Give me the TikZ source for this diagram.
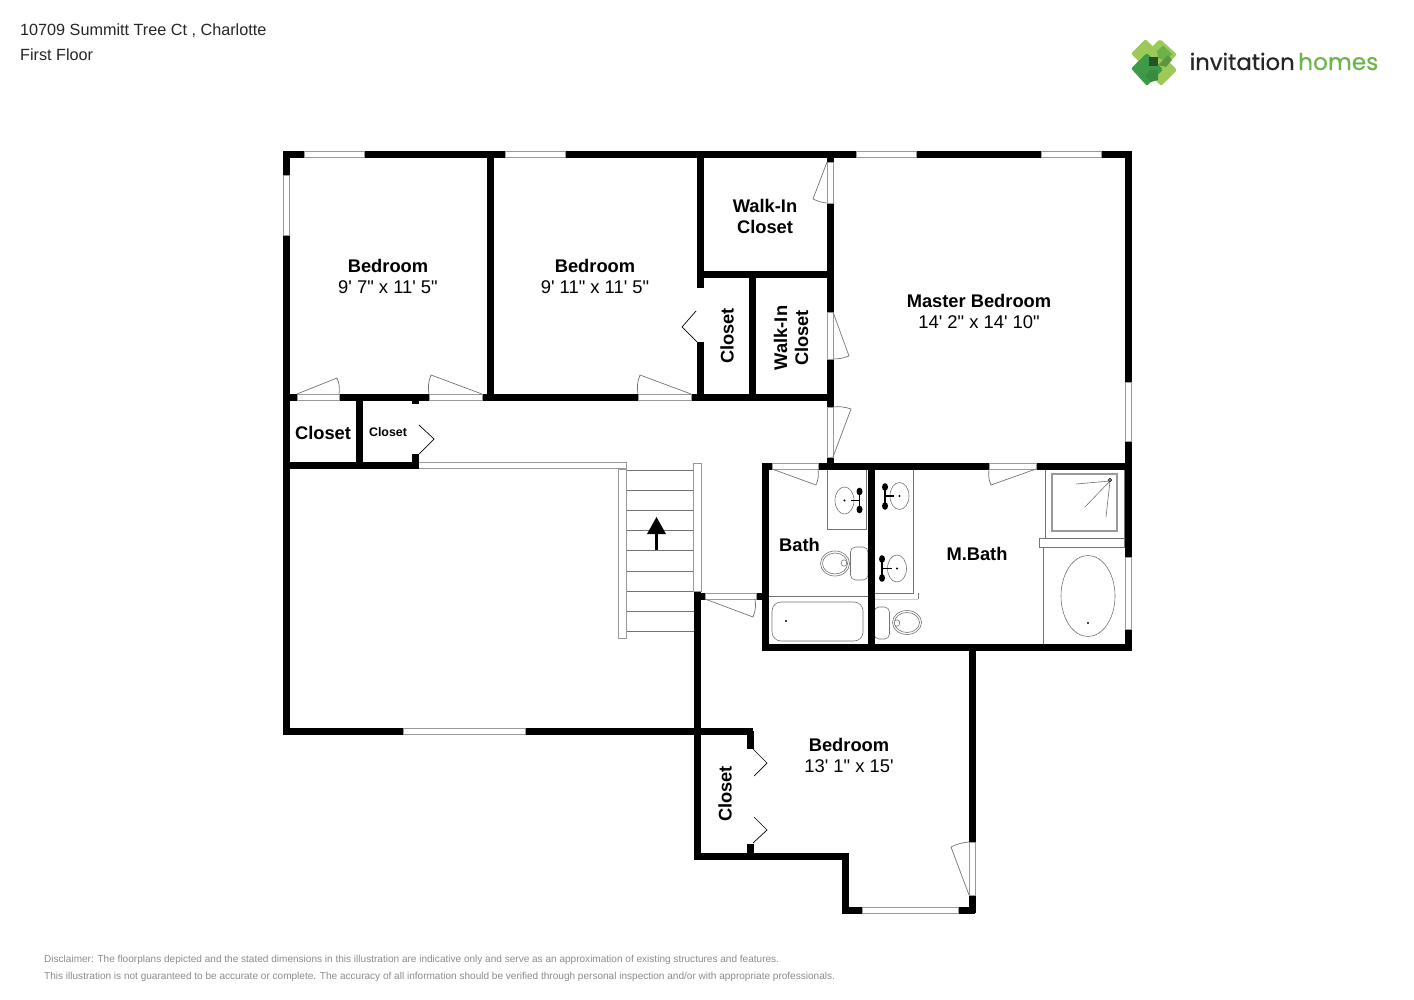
\documentclass[tikz,border=0pt]{standalone}
\usepackage{fontspec}
\newfontfamily\lib{Liberation Sans}
\newfontfamily\logofont{Poppins}[FakeBold=0.5]
\definecolor{fixt}{gray}{0.45}
\definecolor{winl}{gray}{0.6}
\definecolor{lightg}{HTML}{9CC95A}
\definecolor{darkg}{HTML}{3F9A48}
\definecolor{midg}{HTML}{6DB14B}
\definecolor{homesg}{HTML}{6DB54B}
\definecolor{discl}{gray}{0.55}
\tikzset{
 wall/.style={line width=7pt,line cap=butt,draw=black},
 win/.style={fill=white,draw=winl,line width=0.8pt},
 leaf/.style={draw=fixt,line width=0.7pt},
 bifold/.style={draw=black,line width=0.7pt},
 fix/.style={draw=fixt,line width=0.6pt,fill=white},
 tread/.style={draw=fixt,line width=0.8pt},
 dotb/.style={fill=black,draw=none},
 rm/.style={font=\lib\bfseries\fontsize{18.3}{21}\selectfont,align=center,inner sep=0pt},
 dim/.style={font=\lib\fontsize{18.4}{20}\selectfont,align=center,inner sep=0pt},
 hdr/.style={font=\lib\fontsize{16.2}{19}\selectfont,anchor=west,inner sep=0pt,text=black!85},
 disc/.style={font=\lib\fontsize{10.05}{12}\selectfont,anchor=west,inner sep=0pt,text=discl},
 diam/.style={rounded corners=2pt,draw=none},
}
\newcommand{\sinkfix}[6]{% ellipse cx cy, faucet x, blob y1, y2, tip x
 \draw[fix] (#1,#2) ellipse (9.5 and 13.5);
 \fill[dotb] (#1,#2) circle (1.2);
 \draw[black,line width=1.4pt] (#3,#4) -- (#3,#5);
 \draw[black,line width=1.4pt] (#3,#2) -- (#6,#2);
 \fill[black] (#3,#4) ellipse (3 and 3.8);
 \fill[black] (#3,#5) ellipse (3 and 3.8);
}
\begin{document}
\begin{tikzpicture}[x=1pt,y=-1pt]
\useasboundingbox (0,0) rectangle (1414,1000);
\fill[white] (0,0) rectangle (1414,1000);

% ---- fixtures below walls
\draw[fix] (827,469) rectangle (866,529);
\draw[fix] (874,469) rectangle (913.5,593);
\draw[winl!50,line width=0.6pt] (875,599) -- (918,599);
\draw[fixt,line width=0.8pt] (918,593) -- (918,599);
\draw[fixt,line width=0.7pt] (767,596) -- (868,596);
\sinkfix{844.5}{500.5}{859.5}{491.5}{509.5}{851}
\sinkfix{899.5}{496}{885}{487}{506}{894}
\sinkfix{897}{568.5}{882}{559}{578}{892}
% toilets
\draw[fix,rounded corners=5pt] (850.5,547) rectangle (868,580);
\draw[fix] (835,563.5) ellipse (14.5 and 12.5);
\draw[fix] (835,563.5) ellipse (12.5 and 10.5);
\draw[fix] (844,563) ellipse (2.8 and 3.2);
\draw[fix,rounded corners=5pt] (874,607) rectangle (889.5,639);
\draw[fix] (907,622.5) ellipse (14.5 and 12);
\draw[fix] (907,622.5) ellipse (12.5 and 10);
\draw[fix] (897,623) ellipse (2.8 and 3.2);
% bathtub
\draw[fix,rounded corners=9pt] (772,602) rectangle (863,641);
\fill[dotb] (786,621) circle (1.2);
% shower
\draw[fix] (1045,469) rectangle (1124,538);
\draw[draw=winl,line width=2pt,fill=white] (1052,474) rectangle (1117,531);
\draw[fixt,line width=0.6pt] (1110,481) -- (1076,484) (1110,481) -- (1085,507) (1110,481) -- (1106,517);
\draw[black,fill=white,line width=0.7pt] (1110,480) circle (1.6);
\draw[fix] (1039,538) rectangle (1124,547);
% master tub
\draw[fixt,line width=0.6pt] (1043.5,547) -- (1043.5,644);
\draw[fix] (1088,596) ellipse (27 and 40.5);
\fill[dotb] (1088,623) circle (1.2);

% ---- stairs
\draw[win] (418,462.5) rectangle (626,468.5);
\foreach \ty in {470,490,510.3,530.5,550.7,571,591,611,631}{\draw[tread] (626,\ty) -- (694,\ty);}
\draw[win] (618.5,469) rectangle (626,638);
\draw[win] (693.5,463) rectangle (701,591);
\fill[black] (647,534) -- (656.5,517) -- (666,534) -- cycle;
\draw[black,line width=2.5pt] (656.7,533) -- (656.7,550);

% ---- walls
\draw[wall] (283,154.5) -- (1131,154.5);
\draw[wall] (286.5,151) -- (286.5,735);
\draw[wall] (1128,151) -- (1128,650.5);
\draw[wall] (490,154) -- (490,400);
\draw[wall] (700,154) -- (700,288);
\draw[wall] (700,342) -- (700,397);
\draw[wall] (697,275) -- (833,275);
\draw[wall] (752,275) -- (752,397);
\draw[wall] (286,397) -- (833,397);
\draw[wall] (830,154) -- (830,469);
\draw[wall] (359,397) -- (359,465);
\draw[wall] (415.5,397) -- (415.5,404);
\draw[wall] (415.5,454) -- (415.5,468.5);
\draw[wall] (286,465.5) -- (419,465.5);
\draw[wall] (762,466) -- (1131,466);
\draw[wall] (765.5,463) -- (765.5,650);
\draw[wall] (871,466) -- (871,650);
\draw[wall] (762,647.5) -- (1131,647.5);
\draw[wall] (972,647) -- (972,913);
\draw[wall] (842,910) -- (975,910);
\draw[wall] (845.5,856) -- (845.5,913);
\draw[wall] (694,856) -- (849,856);
\draw[wall] (697.5,592) -- (697.5,859);
\draw[wall] (283,731.5) -- (753,731.5);
\draw[wall] (750,731) -- (750,749);
\draw[wall] (750,844) -- (750,856);
\draw[wall] (694,596) -- (705,596);
\draw[wall] (756,596) -- (765,596);

% ---- windows
\draw[win] (304,151.5) rectangle (364,157.5);
\draw[win] (505,151.5) rectangle (565,157.5);
\draw[win] (856,151.5) rectangle (916,157.5);
\draw[win] (1041,151.5) rectangle (1101,157.5);
\draw[win] (283.5,175) rectangle (289.5,235);
\draw[win] (1125,382) rectangle (1131,441);
\draw[win] (1125,557) rectangle (1131,629);
\draw[win] (403,728.5) rectangle (525,734.5);
\draw[win] (862,907) rectangle (958,913);

% ---- door openings and leaves
\draw[win] (297,394) rectangle (339,400);
\draw[leaf] (297,394) -- (337,378) to[bend left=15] (339,394);
\draw[win] (429,394) rectangle (482,400);
\draw[leaf] (482,394) -- (431,375) to[bend right=15] (429,394);
\draw[win] (638,394) rectangle (691,400);
\draw[leaf] (691,394) -- (640,375) to[bend right=15] (638,394);
\draw[win] (827,162) rectangle (833,203);
\draw[leaf] (827,162) -- (813,199) to[bend right=10] (827,203);
\draw[win] (827,312) rectangle (833,359);
\draw[leaf] (833,312) -- (849,356) to[bend left=10] (833,359);
\draw[win] (827,407) rectangle (833,457);
\draw[leaf] (833,457) -- (851,409) to[bend right=12] (833,407);
\draw[win] (772,463) rectangle (818,469);
\draw[leaf] (772,469) -- (816,485) to[bend right=15] (818,469);
\draw[win] (989,463) rectangle (1036,469);
\draw[leaf] (1036,469) -- (991,485) to[bend left=15] (989,469);
\draw[win] (705,593) rectangle (756,599);
\draw[leaf] (705,599) -- (753,617) to[bend right=15] (755,599);
\draw[win] (969,842) rectangle (975,895);
\draw[leaf] (969,895) -- (951,847) to[bend left=10] (969,842);

% ---- bifold doors
\draw[bifold] (696,311) -- (682,327) -- (697,342);
\draw[bifold] (419,425) -- (434,439) -- (419,454);
\draw[bifold] (753,749) -- (767,763) -- (754,776);
\draw[bifold] (754,817) -- (767,830) -- (753,843);

% ---- labels
\node[hdr] (addr) at (20,31) {10709 Summitt Tree Ct , Charlotte};
\node[hdr] (floor) at (20,55) {First Floor};
\node[rm] (b1) at (388,266) {Bedroom};
\node[dim] (b1d) at (388,287) {9' 7" x 11' 5"};
\node[rm] (b2) at (595,266) {Bedroom};
\node[dim] (b2d) at (595,287) {9' 11" x 11' 5"};
\node[rm] (mb) at (979,301) {Master Bedroom};
\node[dim] (mbd) at (979,322) {14' 2" x 14' 10"};
\node[rm] (b3) at (849,745) {Bedroom};
\node[dim] (b3d) at (849,766) {13' 1" x 15'};
\node[rm] (wi1) at (765,216) {Walk-In\\Closet};
\node[rm,rotate=90] (c1) at (727,336) {Closet};
\node[rm,rotate=90] (wi2) at (791,338) {Walk-In\\Closet};
\node[rm] (c2) at (323,432.5) {Closet};
\node[rm,font=\lib\bfseries\fontsize{12.4}{15}\selectfont] (c3) at (388,432) {Closet};
\node[rm,rotate=90] (c4) at (725,794) {Closet};
\node[rm] (bath) at (799.5,545) {Bath};
\node[rm] (mbath) at (977,553.5) {M.Bath};
\node[disc] (d1) at (44,960) {Disclaimer: The floorplans depicted and the stated dimensions in this illustration are indicative only and serve as an approximation of existing structures and features.};
\node[disc] (d2) at (44,976.5) {This illustration is not guaranteed to be accurate or complete. The accuracy of all information should be verified through personal inspection and/or with appropriate professionals.};

% ---- logo
\fill[lightg,diam] (1131,53.7) -- (1145.5,39) -- (1160,53.7) -- (1145.5,68) -- cycle;
\fill[lightg,diam] (1144,54.5) -- (1160,39) -- (1177,54.5) -- (1160,71) -- cycle;
\fill[lightg,diam] (1145,70) -- (1161,54) -- (1177,70) -- (1161,86) -- cycle;
\fill[darkg,diam] (1131,68.5) -- (1147,53) -- (1163,69.5) -- (1147,86) -- cycle;
\fill[midg] (1157,51) -- (1163,45.5) -- (1172,54) -- (1166,61) -- (1158,58) -- cycle;
\fill[midg!85!black] (1163,60) -- (1168,55) -- (1172,60) -- (1166,67) -- (1158,65) -- cycle;
\fill[darkg!90!black] (1145,76) -- (1150,70) -- (1158,70) -- (1158,80) -- (1151,82) -- cycle;
\fill[black!45!darkg] (1149,57.5) rectangle (1158,66);
\node[inner sep=0pt,anchor=base west,font=\logofont\fontsize{22.7}{26}\selectfont,text=black!85] (logo1) at (1189.5,70) {invitation};
\node[inner sep=0pt,anchor=base west,font=\logofont\fontsize{23.2}{26}\selectfont,text=homesg] (logo2) at (1298,70) {homes};
\end{tikzpicture}
\end{document}
